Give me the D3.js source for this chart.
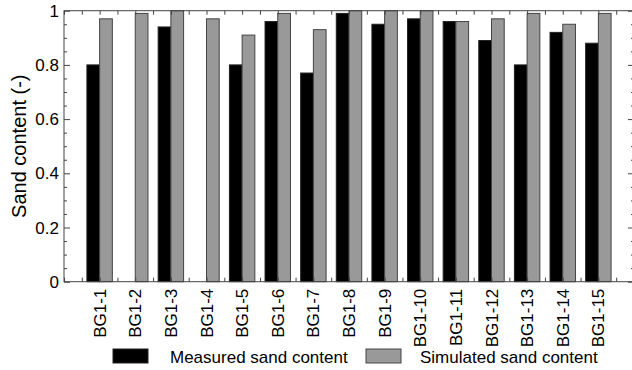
<!DOCTYPE html>
<html>
<head>
<meta charset="utf-8">
<script src="https://cdn.jsdelivr.net/npm/d3@7"></script>
<style>
	body { margin: 0; background: #fff; }
	svg { display: block; font-family: "Liberation Sans", Arial, sans-serif; }
</style>
</head>
<body>
<div id="chart"></div>
<script>
// Samples along the x axis
const samples = ["BG1-1", "BG1-2", "BG1-3", "BG1-4", "BG1-5", "BG1-6", "BG1-7", "BG1-8",
	"BG1-9", "BG1-10", "BG1-11", "BG1-12", "BG1-13", "BG1-14", "BG1-15"];

// Measured sand content (null = no measurement)
const measured = [0.80, null, 0.94, null, 0.80, 0.96, 0.77, 0.99, 0.95, 0.97, 0.96, 0.89, 0.80, 0.92, 0.88];

// Simulated sand content
const simulated = [0.97, 0.99, 1.00, 0.97, 0.91, 0.99, 0.93, 1.00, 1.00, 1.00, 0.96, 0.97, 0.99, 0.95, 0.99];

const yTicks = [0, 0.2, 0.4, 0.6, 0.8, 1];
const legendLabels = ["Measured sand content", "Simulated sand content"];

const WIDTH = 632;
const HEIGHT = 370;
const MARGIN = {TOP: 10.7, RIGHT: -2, BOTTOM: 88.3, LEFT: 64};

const svg = d3.select("#chart").append("svg")
	.attr("width", WIDTH)
	.attr("height", HEIGHT);

// x domain runs one slot past each end, samples sit at 1..15
const xScale = d3.scaleLinear()
	.domain([0, samples.length + 1])
	.range([MARGIN.LEFT, WIDTH - MARGIN.RIGHT]);
const yScale = d3.scaleLinear()
	.domain([0, 1])
	.range([HEIGHT - MARGIN.BOTTOM, MARGIN.TOP]);

const barW = xScale(0.357) - xScale(0);
const frameColor = "#444";

// Bars
const data = samples.map((s, i) => ({name: s, pos: i + 1, m: measured[i], s: simulated[i]}));

svg.append("g").selectAll("rect")
	.data(data.filter((d) => d.m !== null))
	.enter()
	.append("rect")
	.attr("x", (d) => xScale(d.pos) - barW)
	.attr("y", (d) => yScale(d.m))
	.attr("width", barW)
	.attr("height", (d) => yScale(0) - yScale(d.m))
	.attr("fill", "#000")
	.attr("stroke", "#222")
	.attr("stroke-width", 1);

svg.append("g").selectAll("rect")
	.data(data)
	.enter()
	.append("rect")
	.attr("x", (d) => xScale(d.pos))
	.attr("y", (d) => yScale(d.s))
	.attr("width", barW)
	.attr("height", (d) => yScale(0) - yScale(d.s))
	.attr("fill", "#999")
	.attr("stroke", "#444")
	.attr("stroke-width", 1);

// Inward ticks: left and right (major 0.2, minor 0.05)
const yMinor = d3.range(0, 1.0001, 0.05);
const xMinor = d3.range(0, samples.length + 1.0001, 0.5);
const isMajor = (d) => yTicks.some((t) => Math.abs(t - d) < 1e-6);

svg.append("g")
	.attr("class", "axis")
	.attr("transform", "translate(" + MARGIN.LEFT + ",0)")
	.call(d3.axisRight(yScale).tickValues(yMinor).tickSize(3).tickFormat(""))
	.call((g) => g.selectAll(".tick line").attr("x2", (d) => isMajor(d) ? 6 : 3));

svg.append("g")
	.attr("class", "axis")
	.attr("transform", "translate(" + xScale(samples.length + 1) + ",0)")
	.call(d3.axisLeft(yScale).tickValues(yMinor).tickSize(3).tickFormat(""))
	.call((g) => g.selectAll(".tick line").attr("x2", (d) => isMajor(d) ? -6 : -3));

// Top and bottom ticks every half slot
svg.append("g")
	.attr("class", "axis")
	.attr("transform", "translate(0," + yScale(1) + ")")
	.call(d3.axisBottom(xScale).tickValues(xMinor).tickSize(4).tickFormat(""));

svg.append("g")
	.attr("class", "axis")
	.attr("transform", "translate(0," + yScale(0) + ")")
	.call(d3.axisTop(xScale).tickValues(xMinor).tickSize(4).tickFormat(""));

svg.selectAll(".axis .domain").remove();
svg.selectAll(".axis .tick line").attr("stroke", frameColor);

// Frame
svg.append("rect")
	.attr("x", xScale(0))
	.attr("y", yScale(1))
	.attr("width", xScale(samples.length + 1) - xScale(0))
	.attr("height", yScale(0) - yScale(1))
	.attr("fill", "none")
	.attr("stroke", frameColor)
	.attr("stroke-width", 1);

// y tick labels
svg.append("g").selectAll("text")
	.data(yTicks)
	.enter()
	.append("text")
	.attr("x", MARGIN.LEFT - 5)
	.attr("y", (d) => yScale(d))
	.attr("dy", "0.36em")
	.attr("text-anchor", "end")
	.attr("font-size", 17)
	.text((d) => d3.format("~g")(d));

// x tick labels, rotated
svg.append("g").selectAll("text")
	.data(data)
	.enter()
	.append("text")
	.attr("transform", (d) => "translate(" + (xScale(d.pos) + 6) + "," + (yScale(0) + 7) + ") rotate(-90)")
	.attr("text-anchor", "end")
	.attr("font-size", 17)
	.text((d) => d.name);

// y axis label
svg.append("text")
	.attr("transform", "translate(26," + ((yScale(0) + yScale(1)) / 2) + ") rotate(-90)")
	.attr("text-anchor", "middle")
	.attr("font-size", 20)
	.text("Sand content (-)");

// Legend
const legend = [
	{label: legendLabels[0], fill: "#000", stroke: "#222", box: 113, text: 170},
	{label: legendLabels[1], fill: "#999", stroke: "#444", box: 366, text: 420}
];

const items = svg.append("g").selectAll("g")
	.data(legend)
	.enter()
	.append("g");

items.append("rect")
	.attr("x", (d) => d.box)
	.attr("y", 349)
	.attr("width", 35)
	.attr("height", 14)
	.attr("fill", (d) => d.fill)
	.attr("stroke", (d) => d.stroke);

items.append("text")
	.attr("x", (d) => d.text)
	.attr("y", 363)
	.attr("font-size", 17)
	.text((d) => d.label);
</script>
</body>
</html>
